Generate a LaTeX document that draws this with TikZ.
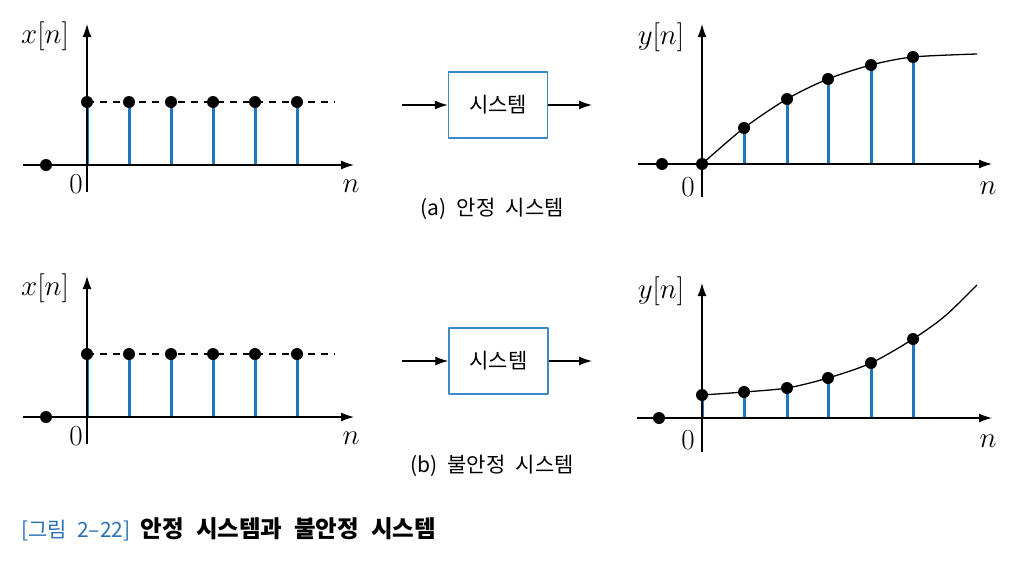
\RequirePackage{fix-cm}
\documentclass[tikz,border=0pt]{standalone}
\usepackage{fontspec}
\newfontfamily\kor[WordSpace=2.2]{Noto Sans CJK KR}
\usetikzlibrary{arrows.meta}
\definecolor{stemblue}{RGB}{31,119,190}
\definecolor{boxblue}{RGB}{62,138,198}
\definecolor{capblue}{RGB}{42,112,180}
\begin{document}
\begin{tikzpicture}[x=1pt,y=-1pt,line
	join=round,>={Latex[length=13pt,width=9pt]},
	axis/.style={line width=1.3pt,->},
	stem/.style={line width=3pt,stemblue},
	curve/.style={line width=1.3pt},
	mlabel/.style={font=\fontsize{29}{34}\selectfont,inner sep=0pt},
	sysbox/.style={draw=boxblue,line width=1.4pt,minimum width=99pt,
		minimum height=66pt,font=\kor\fontsize{21}{25}\selectfont},
	sublabel/.style={font=\kor\fontsize{21}{25}\selectfont,inner sep=0pt}]
	\useasboundingbox (0,0) rectangle (1022,562);
	\def\r{6pt}
	% input x[n]: left column, both rows
	\foreach \row/\yo in {a/165,b/417}{
		\pgfmathsetmacro\yt{\yo-63}
		\draw[dashed,line width=1.2pt,dash pattern=on 7pt off 6pt]
			(87,\yt)--(335,\yt);
		\foreach \k in {0,...,5}{
			\draw[stem] (87+42*\k,\yo)--(87+42*\k,\yt);
			\fill (87+42*\k,\yt) circle (\r);}
		\draw[axis] (23,\yo)--(354,\yo);
		\draw[axis] (87,\yo+27)--(87,\yo-141);
		\fill (46,\yo) circle (\r);
		\node[mlabel] (x\row) at (45,\yo-129) {$x[n]$};
		\node[mlabel] (z\row) at (76,\yo+19) {$0$};
		\node[mlabel] (n\row) at (351,\yo+21) {$n$};
	}
	% systems
	\node[sysbox] (sysA) at (498,105) {시스템};
	\path (402,105) coordinate (inA)
		(592,105) coordinate (outA);
	\draw[->,line width=1.3pt] (inA)--(sysA);
	\draw[->,line width=1.3pt] (sysA)--(outA);
	\node[sysbox] (sysB) at (498.5,361) {시스템};
	\path (402,361) coordinate (inB)
		(592,361) coordinate (outB);
	\draw[->,line width=1.3pt] (inB)--(sysB);
	\draw[->,line width=1.3pt] (sysB)--(outB);
	\node[sublabel] (capA) at (492,209) {(a) 안정 시스템};
	\node[sublabel] (capB) at (492,466) {(b) 불안정 시스템};
	% output y[n], stable
	\foreach \x/\h in {744/128,787/99,828/79,871/65,913/57}
		\draw[stem] (\x,164)--(\x,\h);
	\draw[axis] (638,164)--(992,164);
	\draw[axis] (702,197)--(702,24);
	\draw[curve] plot[smooth] coordinates {(702,164) (744,128) (787,99)
		(828,79) (871,65) (913,57) (977,54)};
	\foreach \x/\h in {662/164,702/164,744/128,787/99,828/79,871/65,913/57}
		\fill (\x,\h) circle (\r);
	\node[mlabel] (ya) at (661,37) {$y[n]$};
	\node[mlabel] (zra) at (688,187) {$0$};
	\node[mlabel] (nra) at (988,188) {$n$};
	% output y[n], unstable
	\foreach \x/\h in {702/395,744/392,787/388,828/378,871/363,913/339}
		\draw[stem] (\x,418)--(\x,\h);
	\draw[axis] (637,418)--(992,418);
	\draw[axis] (702,452)--(702,283);
	\draw[curve] plot[smooth] coordinates {(702,395) (744,392) (787,388)
		(828,378) (871,363) (913,339) (945,316) (977,285)};
	\foreach \x/\h in {659/418,702/395,744/392,787/388,828/378,871/363,913/339}
		\fill (\x,\h) circle (\r);
	\node[mlabel] (yb) at (661,291) {$y[n]$};
	\node[mlabel] (zrb) at (688,440) {$0$};
	\node[mlabel] (nrb) at (988,441) {$n$};
	% figure caption
	\node[anchor=west,inner sep=0pt,font=\kor\fontsize{21}{25}\selectfont]
		(fig) at (21,529) {\textcolor{capblue}{[그림 2–22]}
		{\fontsize{23.5}{28}\selectfont\bfseries 안정 시스템과 불안정 시스템}};
\end{tikzpicture}
\end{document}
